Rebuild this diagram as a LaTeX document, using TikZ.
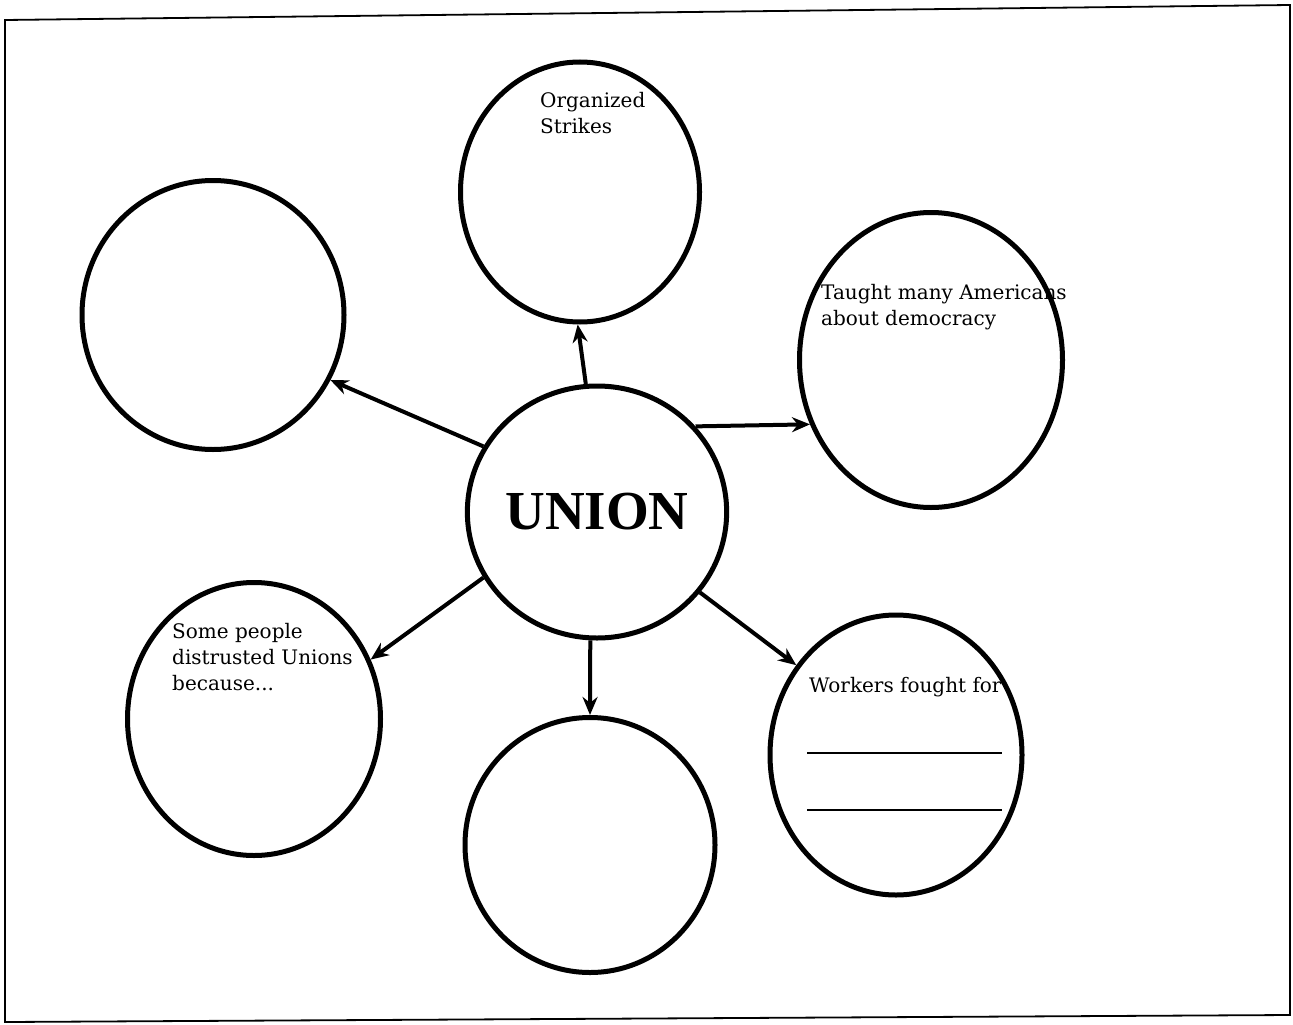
\documentclass[tikz,border=0pt]{standalone}
\usepackage{fontspec}
\setmainfont{DejaVu Serif}
\newfontfamily\unionfont{Liberation Serif}
\usetikzlibrary{shapes.geometric,arrows.meta}

\begin{document}
\begin{tikzpicture}[x=1pt, y=-1pt,
        bubble/.style={ellipse, draw, line width=5pt, inner sep=0pt},
        link/.style={-{Stealth[length=18pt, width=15pt]}, line width=4pt},
        note/.style={anchor=north west, align=left, inner sep=0pt, font=\fontsize{20}{26}\selectfont}]
    \useasboundingbox (0,0) rectangle (1293,1025);

    \draw [line width=1.8pt] (5,20) -- (1290,5) -- (1290,1015) -- (5,1022) -- cycle;

    \node [note] (strikesText) at (540,92) {Organized\\Strikes};
    \node [note] (taughtText) at (821,284) {Taught many Americans\\about democracy};
    \node [note] (distrustText) at (172,623) {Some people\\distrusted Unions\\because...};
    \node [note] (workersText) at (809,677) {Workers fought for};

    \node [bubble, minimum width=239pt, minimum height=260pt] (strikes) at (580,192) {};
    \node [bubble, minimum width=262pt, minimum height=269pt] (blankLeft) at (213,315) {};
    \node [bubble, minimum width=263pt, minimum height=295pt] (taught) at (931,360) {};
    \node [bubble, minimum width=250pt, minimum height=252pt,
           font=\unionfont\bfseries\fontsize{55}{60}\selectfont] (union) at (597,512) {UNION};
    \node [bubble, minimum width=253pt, minimum height=273pt] (distrust) at (254,719) {};
    \node [bubble, minimum width=250pt, minimum height=255pt] (blankBottom) at (590,845) {};
    \node [bubble, minimum width=252pt, minimum height=280pt] (workers) at (896,755) {};

    \draw [line width=1.2pt] (807,753) -- (1002,753);
    \draw [line width=1.2pt] (807,810) -- (1002,810);

    \draw [link] (union.95) -- (strikes.269);
    \draw [link] (union.150) -- (blankLeft.331);
    \draw [link] (union.41) -- (taught.208);
    \draw [link] (union.210) -- (distrust.27);
    \draw [link] (union.267) -- (blankBottom.90);
    \draw [link] (union.322) -- (workers.138);

\end{tikzpicture}
\end{document}
